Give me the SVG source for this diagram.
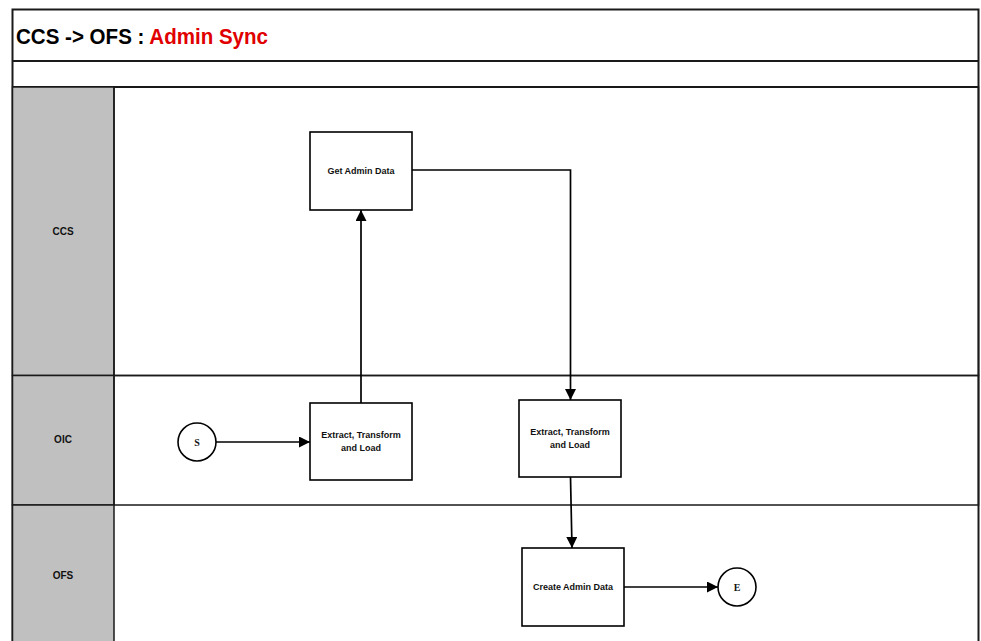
<svg xmlns="http://www.w3.org/2000/svg" width="981" height="641" viewBox="0 0 981 641">
<style>
.frame{fill:none;stroke:#1a1a1a;stroke-width:2}
.lane{fill:#c0c0c0;stroke:#1a1a1a;stroke-width:1.5}
.box{fill:#fff;stroke:#000;stroke-width:1.6}
.lbl{font-family:"Liberation Sans",Arial,sans-serif;font-weight:bold;font-size:9px;fill:#111;text-anchor:middle}
.lane-lbl{font-family:"Liberation Sans",Arial,sans-serif;font-weight:bold;font-size:10px;fill:#111;text-anchor:middle}
.ev{font-family:"Liberation Serif","Times New Roman",serif;font-weight:bold;font-size:10px;fill:#111;text-anchor:middle}
.conn{fill:none;stroke:#000;stroke-width:1.7}
</style>
<defs>
<marker id="arr" viewBox="0 0 10 10" refX="10" refY="5" markerWidth="11" markerHeight="11" markerUnits="userSpaceOnUse" orient="auto">
<path d="M0,0 L10,5 L0,10 Z" fill="#000"/>
</marker>
</defs>
<rect x="0" y="0" width="981" height="641" fill="#fff"/>
<g id="pool">
<rect x="12.5" y="9.5" width="966" height="640" fill="#fff" class="frame"/>
<line x1="12.5" y1="61" x2="978.5" y2="61" class="frame"/>
<line x1="12.5" y1="87" x2="978.5" y2="87" class="frame"/>
<text x="16" y="44" font-family="Liberation Sans,Arial,sans-serif" font-weight="bold" font-size="21.5" fill="#000" textLength="252" lengthAdjust="spacingAndGlyphs">CCS -&gt; OFS : <tspan fill="#e00000">Admin Sync</tspan></text>
</g>
<g id="lane-ccs">
<rect x="12.5" y="87" width="101.5" height="288.5" class="lane"/>
<rect x="114" y="87" width="864.5" height="288.5" fill="none" stroke="#1a1a1a" stroke-width="1.5"/>
<text x="63" y="235" class="lane-lbl">CCS</text>
</g>
<g id="lane-oic">
<rect x="12.5" y="375.5" width="101.5" height="129.5" class="lane"/>
<rect x="114" y="375.5" width="864.5" height="129.5" fill="none" stroke="#1a1a1a" stroke-width="1.5"/>
<text x="63" y="443" class="lane-lbl">OIC</text>
</g>
<g id="lane-ofs">
<rect x="12.5" y="505" width="101.5" height="140" class="lane"/>
<text x="63" y="579" class="lane-lbl">OFS</text>
</g>
<g id="connectors">
<line x1="216" y1="442" x2="310" y2="442" class="conn" marker-end="url(#arr)"/>
<line x1="361" y1="403" x2="361" y2="210" class="conn" marker-end="url(#arr)"/>
<polyline points="412,170 570.5,170 570.5,400" class="conn" marker-end="url(#arr)"/>
<line x1="570.5" y1="477" x2="572" y2="548" class="conn" marker-end="url(#arr)"/>
<line x1="624" y1="587" x2="718" y2="587" class="conn" marker-end="url(#arr)"/>
</g>
<g id="start">
<circle cx="197" cy="442" r="19" class="box"/>
<text x="197" y="446" class="ev">S</text>
</g>
<g id="get-admin-data">
<rect x="310" y="132" width="102" height="78" class="box"/>
<text x="361" y="174" class="lbl">Get Admin Data</text>
</g>
<g id="etl-1">
<rect x="310" y="403" width="102" height="77" class="box"/>
<text x="361" y="438" class="lbl">Extract, Transform</text>
<text x="361" y="451" class="lbl">and Load</text>
</g>
<g id="etl-2">
<rect x="519" y="400" width="102" height="77" class="box"/>
<text x="570" y="435" class="lbl">Extract, Transform</text>
<text x="570" y="448" class="lbl">and Load</text>
</g>
<g id="create-admin-data">
<rect x="522" y="548" width="102" height="78" class="box"/>
<text x="573" y="590" class="lbl">Create Admin Data</text>
</g>
<g id="end">
<circle cx="737" cy="587" r="19" class="box"/>
<text x="737" y="591" class="ev">E</text>
</g>
</svg>
